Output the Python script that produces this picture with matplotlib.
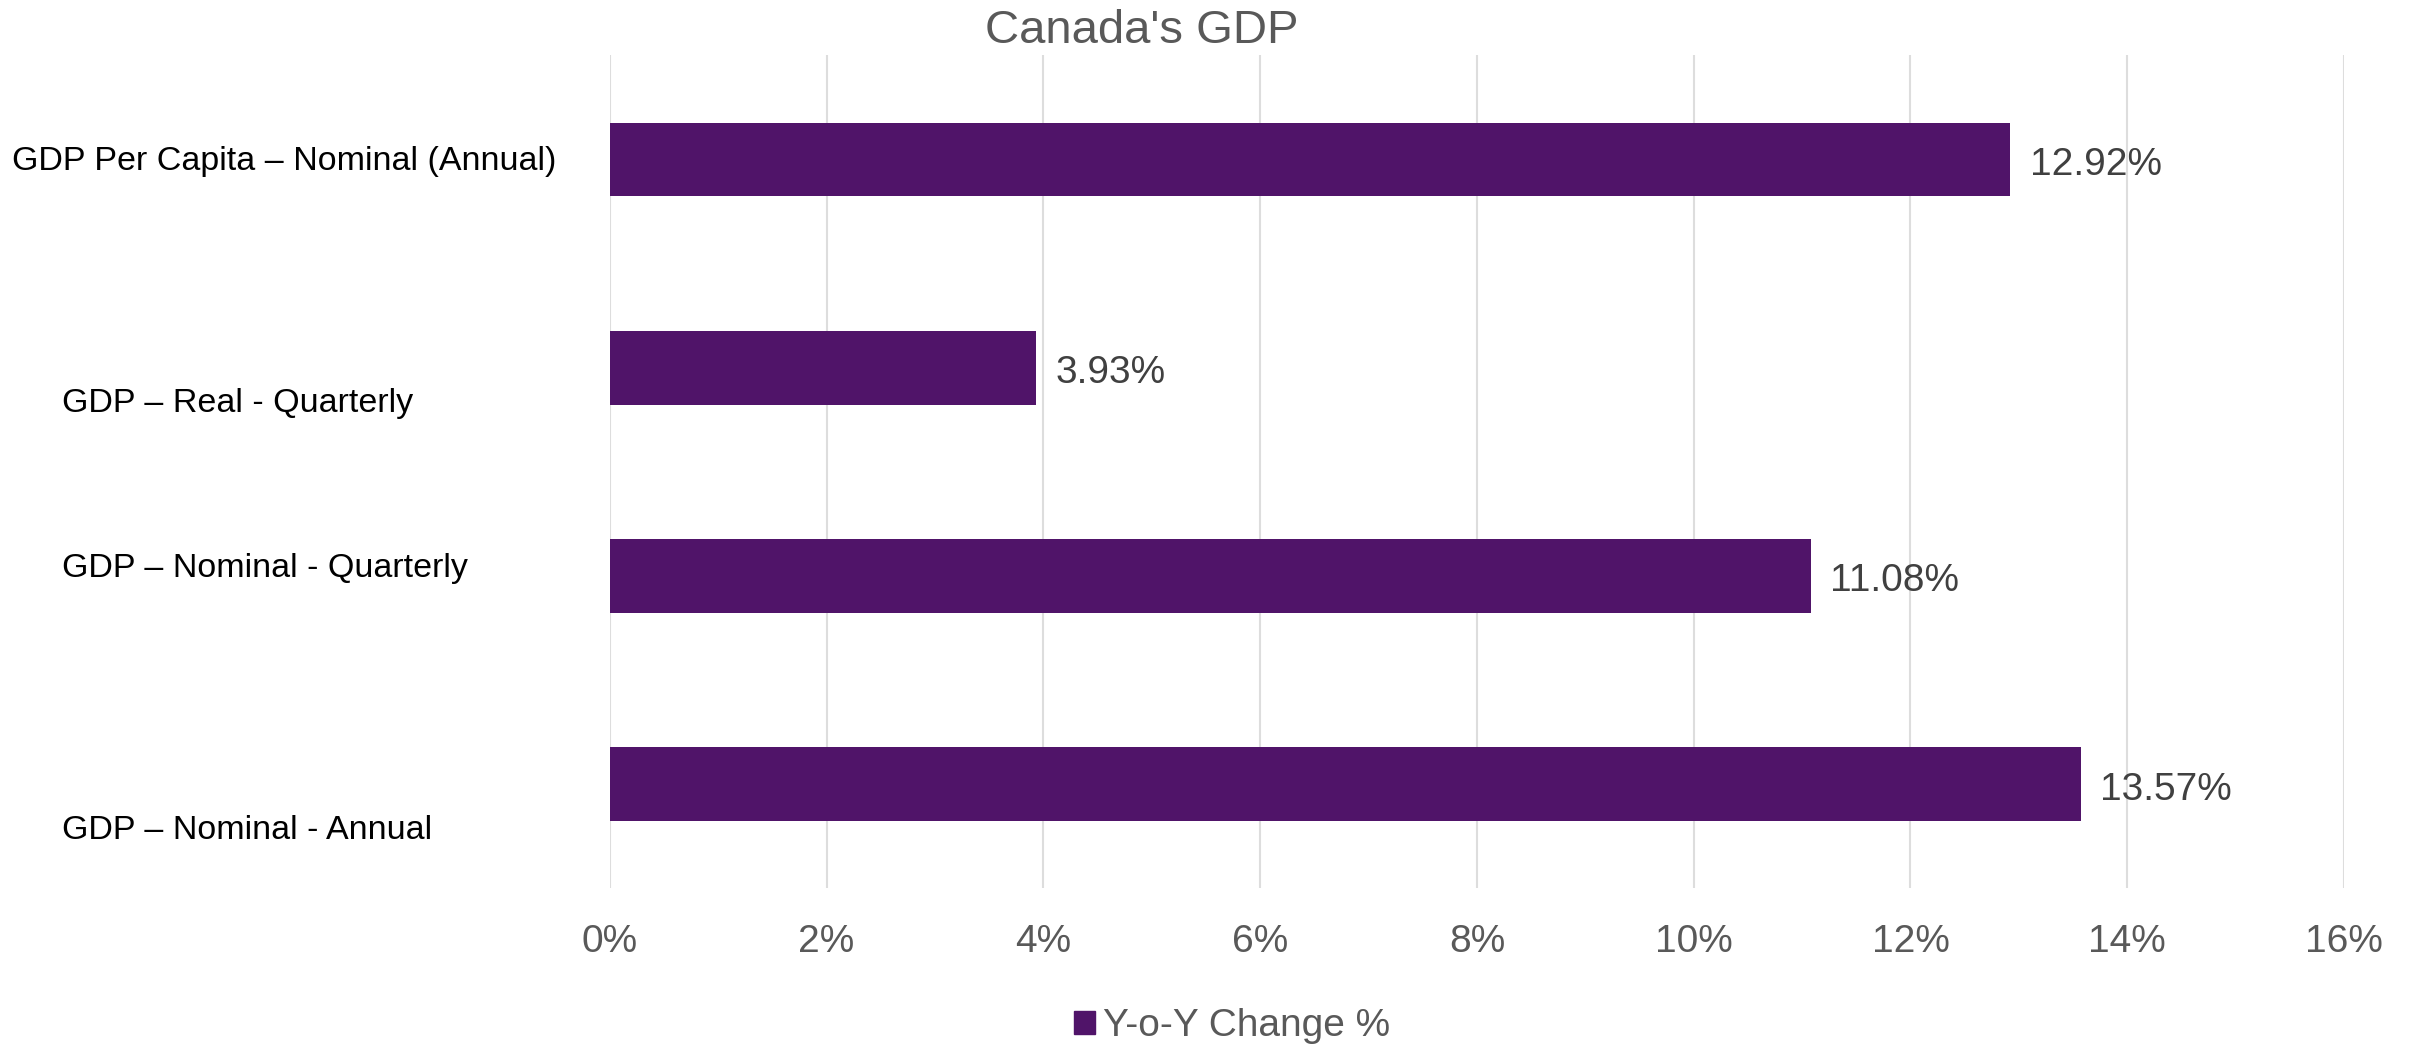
import matplotlib.pyplot as plt
import matplotlib.transforms as mtransforms
from matplotlib.patches import Patch

plt.rcParams['font.family'] = ['Liberation Sans', 'DejaVu Sans']

# Canada GDP, year-over-year change (%)
categories = [
    "GDP Per Capita \u2013 Nominal (Annual)",
    "GDP \u2013 Real - Quarterly",
    "GDP \u2013 Nominal - Quarterly",
    "GDP \u2013 Nominal - Annual",
]
yoy_change = [12.92, 3.93, 11.08, 13.57]
x_ticks = [0, 2, 4, 6, 8, 10, 12, 14, 16]
series_name = "Y-o-Y Change %"

bar_color = "#501469"

fig = plt.figure(figsize=(24.2, 10.45), dpi=100)
ax = fig.add_axes([0.252, 0.150, 0.7166, 0.797])

ypos = list(range(len(categories)))
bars = ax.barh(ypos, yoy_change, height=0.355, color=bar_color, zorder=3)

ax.set_xlim(0, 16)
ax.set_ylim(len(categories) - 0.5, -0.5)
ax.set_xticks(x_ticks)
ax.set_xticklabels([f"{t}%" for t in x_ticks], fontsize=28, color="#595959")
ax.tick_params(axis="x", length=0, pad=26)
ax.set_yticks([])
ax.grid(axis="x", color="#DDDDDD", linewidth=1.5, zorder=0)
for s in ax.spines.values():
    s.set_visible(False)

# value labels at the end of each bar
for b, v in zip(bars, yoy_change):
    ax.annotate(f"{v:.2f}%", (v, b.get_y() + b.get_height() / 2),
                xytext=(14, -4), textcoords="offset points",
                va="center", ha="left", fontsize=28, color="#404040")

# category labels sit on the left, a little off the bar centres
label_x = [12, 62, 62, 62]
label_dy = [-2, -36, 7, -46]
for i, (name, lx, dy) in enumerate(zip(categories, label_x, label_dy)):
    tr = mtransforms.blended_transform_factory(fig.transFigure, ax.transData)
    tr = tr + mtransforms.ScaledTranslation(0, dy / 100, fig.dpi_scale_trans)
    ax.text(lx / 2420, i, name, transform=tr, ha="left", va="center",
            fontsize=24.5, color="black", clip_on=False)

fig.text(0.472, 0.970, "Canada's GDP", ha="center", va="center",
         fontsize=34, color="#595959")

fig.legend(handles=[Patch(color=bar_color, label=series_name)],
           loc="center", bbox_to_anchor=(0.509, 0.018), frameon=False,
           fontsize=28, labelcolor="#595959", handlelength=0.55,
           handleheight=0.55, handletextpad=0.2)

fig.savefig("out.png", dpi=100)
